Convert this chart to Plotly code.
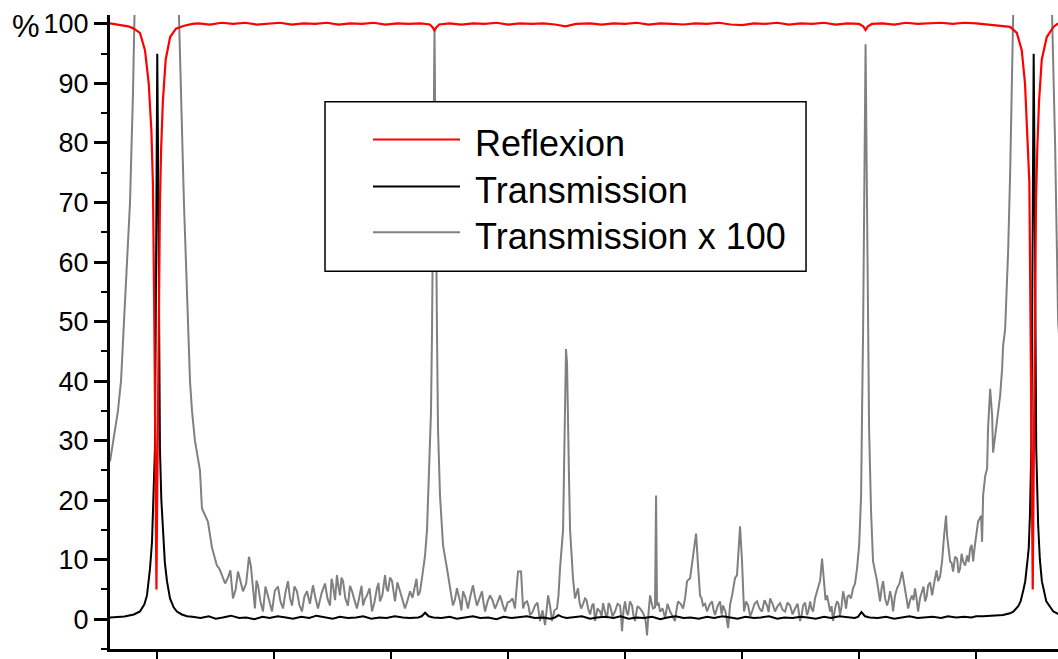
import plotly.graph_objects as go

# ---------------- data (x in axis units, ticks every 10; y in %) ----------------
# Transmission x 100 (grey)
gray_peak1 = [(-4.04, 26.5), (-3.62, 32), (-3.36, 35), (-3.10, 40), (-2.85, 50), (-2.59, 60),
              (-2.33, 70), (-2.08, 88), (-1.86, 110), (0.0, 9500), (1.81, 110), (1.86, 101),
              (2.28, 70), (2.54, 55), (2.80, 40), (2.97, 35), (3.22, 30), (3.65, 25), (3.82, 18.6),
              (4.33, 16.4), (4.68, 12), (5.10, 9), (5.53, 7.4), (6.04, 7), (6.47, 3.5), (6.90, 8),
              (7.33, 4.7), (7.84, 10.5), (8.10, 7), (8.35, 1.8), (8.61, 5.7), (9.04, 1.3), (9.47, 4),
              (9.81, 1.3), (10.32, 5.5), (10.75, 1.8), (11.17, 6.4), (11.52, 2.3), (11.94, 4.7),
              (12.37, 1.3), (12.80, 4.7), (13.31, 5.7), (13.74, 1.8), (14.34, 6), (14.77, 2.3),
              (15.02, 5.7), (15.36, 7.4), (15.62, 4), (15.88, 6.4), (16.30, 2.3), (16.65, 4.7),
              (17.07, 1.8), (17.33, 4.7), (17.59, 2.3), (17.93, 4), (18.36, 1.3), (18.78, 5.2),
              (19.04, 3), (19.47, 7.4), (19.72, 4.7), (20.07, 6.4), (20.32, 3), (20.75, 4.7),
              (21.18, 1.8), (21.61, 4.7), (22.03, 5.7), (22.29, 4), (22.63, 6.9)]
gray_peak2 = [(22.89, 10.7), (23.06, 15), (23.23, 23.6), (23.40, 34.8), (23.49, 48.7), (23.70, 99),
              (23.91, 48.7), (24.00, 32), (24.17, 20.8), (24.43, 12.4), (24.77, 8.5), (25.03, 5.7),
              (25.28, 2.3), (25.62, 5.2), (25.88, 3), (26.14, 4.7), (26.56, 1.8), (26.99, 5.7),
              (27.33, 2.3), (27.76, 4.7), (28.02, 1.3), (28.45, 4), (28.87, 1.8), (29.30, 4),
              (29.73, 1.3), (30.16, 3), (30.58, 1.8), (30.84, 8), (31.10, 8), (31.27, 1.8),
              (31.61, 3), (31.87, 0.7), (32.29, 2.3), (32.72, -0.3), (33.15, -1), (33.41, 4),
              (33.75, -0.3), (34.17, 1.8), (34.43, 8.5), (34.69, 15), (34.86, 32), (34.94, 45.4),
              (35.03, 43), (35.11, 30), (35.20, 23.6), (35.29, 15), (35.54, 6.9), (35.71, 3.5)]
gray_mid = [(35.97, 5.2), (36.23, 1.8), (36.57, 3.5), (36.83, 1.8), (37.17, 2.3), (37.42, -0.3),
            (37.85, 1.3), (38.11, 2.7), (38.45, 0.2), (38.71, 2.3), (39.13, 1.3), (39.56, 2.3),
            (39.73, -2), (39.99, 3), (40.24, 0.7), (40.59, 2.3), (40.84, -0.3), (41.27, 1.8),
            (41.70, 0.2), (41.87, -2.7), (42.13, 4), (42.38, 1.8), (42.55, 2), (42.64, 20.8),
            (42.72, 2.3), (42.98, 1.3), (43.41, 0.2), (43.84, 1.3), (44.26, -0.3), (44.52, 3),
            (44.95, 1.8), (45.29, 6.4), (45.55, 6.9), (45.72, 9.7), (46.06, 14.4), (46.23, 9),
            (46.40, 4), (46.66, 2.3), (47.00, 1.3), (47.43, 3), (47.68, 0.7), (48.11, 3),
            (48.37, 2.3), (48.80, -1.5), (49.14, 4), (49.39, 6.9), (49.56, 7.4), (49.82, 15.6),
            (49.99, 9.7), (50.16, 1.3), (50.51, 2.3), (50.85, 1.3), (51.27, 3), (51.70, 1.3),
            (52.13, 2.3), (52.39, 3.5), (52.81, 1.3), (53.24, 2.7), (53.67, 1.3), (54.10, 2.3),
            (54.52, 1.8), (54.95, -0.3), (55.21, 2.3), (55.55, 0.7), (55.81, 3), (56.06, 1.3),
            (56.40, 4.7), (56.66, 6.4), (56.83, 10.2), (57.00, 5.7), (57.26, 4), (57.52, 1.3),
            (57.77, -0.3), (58.11, 3), (58.37, 0.7), (58.63, 4.7), (58.88, 1.8), (59.14, 4),
            (59.48, 5.2), (59.82, 8.5)]
gray_right = [(60.00, 12.4), (60.17, 20.8), (60.25, 34.8), (60.34, 48.7), (60.55, 96.6),
              (60.76, 48.7), (60.85, 32), (61.02, 18), (61.19, 9.7), (61.53, 6.4), (61.79, 3),
              (62.05, 6.4), (62.39, 2.3), (62.65, 4.7), (62.90, 1.3), (63.24, 5.2), (63.67, 8),
              (63.93, 4.7), (64.19, 1.8), (64.53, 4), (64.78, 5.2), (65.04, 1.3), (65.38, 4.7),
              (65.64, 3), (65.90, 5.7), (66.24, 4), (66.49, 6.9), (66.75, 6.4), (67.09, 9.7),
              (67.26, 14), (67.43, 17.4), (67.52, 14), (67.78, 9.7), (68.03, 8), (68.37, 10.2),
              (68.63, 8.5), (68.89, 9.7), (69.23, 10.7), (69.49, 11.9), (69.75, 9.7), (70.00, 14),
              (70.17, 16.4), (70.43, 17.4), (70.51, 13), (70.60, 20.8), (70.77, 24), (70.94, 25.3),
              (71.02, 32), (71.20, 38.7), (71.37, 34.2), (71.45, 28), (71.71, 32), (71.88, 34.2),
              (72.05, 37.5), (72.22, 42), (72.31, 46), (72.48, 48.7), (72.74, 62), (72.91, 75),
              (73.16, 101), (73.30, 115), (74.92, 9500), (76.40, 115), (76.50, 101), (76.75, 80),
              (77.01, 50), (77.52, 35)]
# additional readings of the noisy grey band (between the points above)
gray_noise = [(5.3, 8.5), (5.8, 6), (6.25, 8.2), (6.7, 5), (7.1, 6.5), (7.6, 6), (8.0, 9), (8.22, 4),
              (8.48, 6.5), (8.82, 3), (9.25, 5.5), (9.64, 2.5), (10.05, 4.8), (10.53, 3), (10.96, 4.5),
              (11.35, 3.5), (11.73, 5.5), (12.15, 2.4), (12.58, 3.8), (13.05, 2.6), (13.52, 3.6),
              (14.05, 4.4), (14.55, 3.5), (14.9, 6.8), (15.2, 3.2), (15.49, 5.5), (15.75, 7),
              (16.08, 3.5), (16.48, 5.6), (16.86, 3.2), (17.2, 3), (17.46, 5.6), (17.76, 3.4),
              (18.15, 5.2), (18.57, 2.9), (18.91, 6.1), (19.25, 4.1), (19.6, 5.2), (19.9, 7),
              (20.2, 4.3), (20.53, 6.2), (20.96, 3.4), (21.4, 3.2), (21.82, 3.6), (22.16, 6.8),
              (22.46, 4.6),
              (25.15, 3.8), (25.45, 3.3), (25.75, 4.2), (26.0, 1.5), (26.35, 3.6), (26.78, 4),
              (27.16, 3.8), (27.55, 3.5), (27.89, 2.8), (28.24, 3), (28.66, 3.2), (29.08, 2.8),
              (29.52, 2.5), (29.95, 2.8), (30.37, 3.5), (30.71, 5), (31.19, 4.5), (31.44, 2.8),
              (31.74, 2.2), (32.08, 1.2), (32.5, 2.8), (32.94, 1.5), (33.28, 1.5), (33.58, 2.2),
              (33.96, 1.5), (34.3, 4),
              (36.1, 2.8), (36.4, 2.6), (36.7, 3.2), (37.0, 0.8), (37.3, 2.6), (37.63, 1.8),
              (37.98, 0.5), (38.28, 1.2), (38.58, 2.7), (38.92, 0.5), (39.35, 2.6), (39.64, 0.8),
              (39.86, 1.6), (40.12, 1.2), (40.41, 3.0), (40.71, 0.6), (41.05, 2.2), (41.49, 1.2),
              (41.78, -0.8), (42.0, 1.2), (42.25, 2.8), (42.85, 2.8), (43.2, 1.8), (43.62, 2.6),
              (44.05, 0.5), (44.39, 1.6), (44.74, 2.6), (45.12, 3.5),
              (46.53, 3.5), (46.83, 2.6), (47.21, 2.4), (47.55, 1.6), (47.9, 2.2), (48.24, 0.8),
              (48.58, 1.2), (48.97, 2.5), (50.34, 3), (50.68, 0.5), (51.06, 2.6), (51.48, 1.8),
              (51.91, 3.2), (52.26, 1.2), (52.6, 2.6), (53.03, 2.2), (53.45, 1.6), (53.88, 2.8),
              (54.31, 0.8), (54.74, 2.6), (55.08, 0.6), (55.38, 2.8), (55.68, 1.5), (55.93, 1.8),
              (56.23, 3.5), (57.13, 3.2), (57.39, 2.5), (57.64, 2.2), (57.94, 1.8), (58.24, 2.6),
              (58.5, 2.2), (58.76, 3.4), (59.01, 3.8), (59.31, 3.5), (59.65, 6),
              (61.66, 4.5), (61.92, 5.2), (62.22, 3.5), (62.52, 3.2), (62.78, 3.5), (63.07, 4),
              (63.45, 6), (63.8, 6.5), (64.06, 2.8), (64.36, 3.2), (64.65, 3.2), (64.91, 3.5),
              (65.21, 3.6), (65.51, 5.5), (65.77, 3.8), (66.07, 6.2), (66.37, 5.2), (66.62, 8.2),
              (66.92, 7.2), (67.65, 11.5), (67.9, 9.5), (68.2, 10.5), (68.5, 7.8), (68.76, 11),
              (69.06, 9), (69.36, 9.6), (69.62, 12.5), (69.88, 12.2)]

# Transmission (black)
trans_peak1 = [(-4.04, 0.3), (-3.6, 0.35), (-3.2, 0.3), (-2.8, 0.45), (-2.5, 0.6), (-2.0, 0.8),
               (-1.48, 1.3), (-1.1, 2.5), (-0.88, 4), (-0.62, 8.5), (-0.45, 13), (-0.37, 17.4),
               (-0.2, 28.6), (-0.13, 50), (-0.06, 80), (0.0, 95), (0.06, 80), (0.13, 50),
               (0.23, 28.6), (0.35, 20), (0.49, 14.7), (0.65, 9.5), (0.83, 6.4), (1.09, 3.5),
               (1.4, 2), (1.68, 1.3), (2.1, 0.8), (2.54, 0.5)]
trans_base = [(3.0, 0.4), (3.7, 0.2), (4.4, 0.5), (5.0, 0.1), (5.6, 0.3), (6.3, 0.6), (7.0, 0.2),
              (7.6, 0.3), (8.3, 0.0), (9.0, 0.4), (9.6, 0.2), (10.3, 0.5), (11.0, 0.3), (11.6, 0.1),
              (12.3, 0.4), (13.0, 0.2), (13.6, 0.6), (14.3, 0.3), (15.0, 0.1), (15.6, 0.4),
              (16.3, 0.2), (17.0, 0.3), (17.6, 0.5), (18.3, 0.1), (19.0, 0.3), (19.6, 0.2),
              (20.3, 0.5), (21.0, 0.3), (21.6, 0.2), (22.3, 0.3), (22.6, 0.5), (22.9, 1.1),
              (23.2, 0.5), (23.6, 0.3), (24.3, 0.2), (25.0, 0.4), (25.6, 0.1), (26.3, 0.3),
              (27.0, 0.5), (27.6, 0.2), (28.3, 0.3), (29.0, 0.0), (29.6, 0.4), (30.3, 0.2),
              (31.0, 0.3), (31.6, 0.5), (32.3, 0.2), (33.0, 0.3), (33.6, 0.1), (34.0, 0.3),
              (34.3, 0.7), (34.6, 0.4), (35.0, 0.2), (35.6, 0.3), (36.3, 0.5), (37.0, 0.1),
              (37.6, 0.3), (38.3, 0.4), (39.0, 0.2), (39.6, 0.5), (40.3, 0.1), (41.0, 0.3),
              (41.6, 0.2), (42.3, 0.4), (43.0, 0.0), (43.6, 0.3), (44.3, 0.5), (45.0, 0.2),
              (45.6, 0.3), (46.3, 0.1), (47.0, 0.4), (47.6, 0.2), (48.3, 0.5), (49.0, 0.3),
              (49.6, 0.1), (50.3, 0.4), (51.0, 0.2), (51.6, 0.3), (52.3, 0.5), (53.0, 0.1),
              (53.6, 0.3), (54.3, 0.2), (55.0, 0.4), (55.6, 0.3), (56.3, 0.1), (57.0, 0.4),
              (57.6, 0.2), (58.3, 0.5), (59.0, 0.3), (59.6, 0.2), (59.9, 0.4), (60.2, 1.2),
              (60.5, 0.5), (60.9, 0.3), (61.6, 0.2), (62.3, 0.4), (63.0, 0.1), (63.6, 0.3),
              (64.3, 0.5), (65.0, 0.2), (65.6, 0.3), (66.3, 0.4), (67.0, 0.2), (67.6, 0.5),
              (68.3, 0.3), (69.0, 0.4), (69.6, 0.3), (70.0, 0.5)]
trans_peak2 = [(70.6, 0.5), (71.5, 0.55), (72.3, 0.7), (72.9, 1.0), (73.2, 1.3), (73.6, 2.2),
               (73.8, 3), (74.05, 5), (74.2, 6.4), (74.4, 10), (74.5, 12), (74.6, 17.4),
               (74.72, 28.6), (74.79, 50), (74.86, 80), (74.92, 95), (74.98, 80), (75.05, 50),
               (75.14, 28.6), (75.3, 16), (75.45, 10), (75.62, 6.4), (76.0, 3), (76.6, 1.3),
               (77.2, 0.7)]

# Reflexion (red)
refl_dip1 = [(-4.04, 100.1), (-3.5, 99.9), (-3.0, 99.8), (-2.5, 99.6), (-2.08, 99.3), (-1.48, 98.5),
             (-1.05, 95.6), (-0.73, 90), (-0.5, 82), (-0.37, 73), (-0.25, 50), (-0.17, 30),
             (-0.11, 15), (-0.07, 5), (-0.03, 15), (0.03, 30), (0.11, 50), (0.23, 70), (0.33, 79),
             (0.48, 87), (0.72, 94), (1.1, 97.8), (1.6, 99.2), (2.3, 99.7), (3.0, 100.0)]
refl_mid = [(3.5, 100.1), (4.5, 99.9), (5.5, 100.2), (6.5, 100.0), (7.5, 100.2), (8.5, 99.9),
            (9.5, 100.1), (10.5, 100.2), (11.5, 99.9), (12.5, 100.1), (13.5, 100.0), (14.5, 100.2),
            (15.5, 99.9), (16.5, 100.1), (17.5, 100.0), (18.5, 100.2), (19.5, 99.9), (20.5, 100.1),
            (21.5, 100.0), (22.5, 100.1), (23.3, 99.9), (23.55, 99.4), (23.7, 98.9), (23.85, 99.4),
            (24.1, 99.9), (25, 100.1), (26, 99.9), (27, 100.1), (28, 100.0), (29, 100.2), (30, 99.9),
            (31, 100.1), (32, 100.0), (33, 100.1), (34, 99.9), (34.9, 99.6), (35.8, 100.0),
            (37, 100.1), (38, 99.9), (39, 100.1), (40, 100.0), (41, 100.2), (42, 99.9), (43, 100.1),
            (44, 100.0), (45, 99.9), (46, 100.1), (47, 100.0), (48, 100.2), (49, 99.9), (50, 99.8),
            (51, 100.1), (52, 100.0), (53, 100.2), (54, 99.9), (55, 100.1), (56, 100.0),
            (57, 100.2), (58, 99.9), (59, 100.1), (60.0, 100.0), (60.35, 99.6), (60.55, 99.0),
            (60.75, 99.6), (61.1, 100.0), (62, 100.1), (63, 99.9), (64, 100.2), (65, 100.0),
            (66, 100.1), (67, 100.2), (68, 100.0), (69, 100.2), (70, 100.1)]
refl_dip2 = [(71, 99.9), (72, 99.8), (72.5, 99.7), (72.91, 99.5), (73.48, 98.5), (73.90, 95.6),
             (74.18, 90), (74.38, 81.7), (74.55, 73.4), (74.65, 50), (74.73, 30), (74.78, 15),
             (74.84, 5), (74.88, 15), (74.94, 30), (75.02, 50), (75.12, 70.5), (75.23, 79),
             (75.38, 87), (75.61, 94), (76.04, 97.8), (76.61, 99.5), (76.95, 100), (77.52, 100.1)]

series_names = ["Reflexion", "Transmission", "Transmission x 100"]
series_colors = ["#ff0000", "#000000", "#808080"]
y_tick_values = list(range(0, 101, 10))


def unzip(*segments):
    pts = sorted(p for seg in segments for p in seg)
    return [p[0] for p in pts], [p[1] for p in pts]


gx, gy = unzip(gray_peak1, gray_peak2, gray_mid, gray_right, gray_noise)
tx, ty = unzip(trans_peak1, trans_base, trans_peak2)
rx, ry = unzip(refl_dip1, refl_mid, refl_dip2)

FONT = "Liberation Sans, Arial, sans-serif"

fig = go.Figure()
fig.add_trace(go.Scatter(x=gx, y=gy, mode="lines", name=series_names[2],
                         line=dict(color=series_colors[2], width=2), showlegend=False))
fig.add_trace(go.Scatter(x=tx, y=ty, mode="lines", name=series_names[1],
                         line=dict(color=series_colors[1], width=2), showlegend=False))
fig.add_trace(go.Scatter(x=rx, y=ry, mode="lines", name=series_names[0],
                         line=dict(color=series_colors[0], width=2.2), showlegend=False))

fig.update_layout(
    width=1058, height=659,
    margin=dict(l=110, r=0, t=15, b=8),
    paper_bgcolor="white", plot_bgcolor="white",
    font=dict(family=FONT, color="black"),
    showlegend=False,
)
fig.update_xaxes(range=[-4.04, 77.0], showline=True, linewidth=3, linecolor="black",
                 ticks="outside", ticklen=10, tickwidth=2, tickcolor="black",
                 tick0=0, dtick=10, showticklabels=False, showgrid=False, zeroline=False)
fig.update_yaxes(range=[-5, 101.5], showline=True, linewidth=3, linecolor="black",
                 ticks="outside", ticklen=13, tickwidth=2.5, tickcolor="black",
                 tickvals=y_tick_values, tickfont=dict(size=27, family=FONT, color="black"),
                 minor=dict(ticks="outside", ticklen=6, tickwidth=2, tickcolor="black", dtick=5, tick0=0),
                 showgrid=False, zeroline=False)

# "%" unit label
fig.add_annotation(xref="paper", yref="paper", x=-0.0886, y=0.982, text="%", showarrow=False,
                   xanchor="center", yanchor="middle", font=dict(size=31, family=FONT, color="black"))

# legend box drawn manually (long line samples)
fig.add_shape(type="rect", xref="paper", yref="paper", x0=0.2268, x1=0.7342, y0=0.5959, y1=0.8632,
              line=dict(color="black", width=1.5), fillcolor="white", layer="above")
leg_y = [0.8035, 0.7296, 0.6572]
for name, color, yy in zip(series_names, series_colors, leg_y):
    fig.add_shape(type="line", xref="paper", yref="paper", x0=0.2774, x1=0.3692, y0=yy, y1=yy,
                  line=dict(color=color, width=2), layer="above")
    fig.add_annotation(xref="paper", yref="paper", x=0.3829, y=yy - 0.006, text=name,
                       showarrow=False, xanchor="left", yanchor="middle",
                       font=dict(size=36, family=FONT, color="black"))

fig.write_html("out.html", config={"displayModeBar": False},
               post_script="document.body.style.margin='0';document.body.style.overflow='hidden';")
